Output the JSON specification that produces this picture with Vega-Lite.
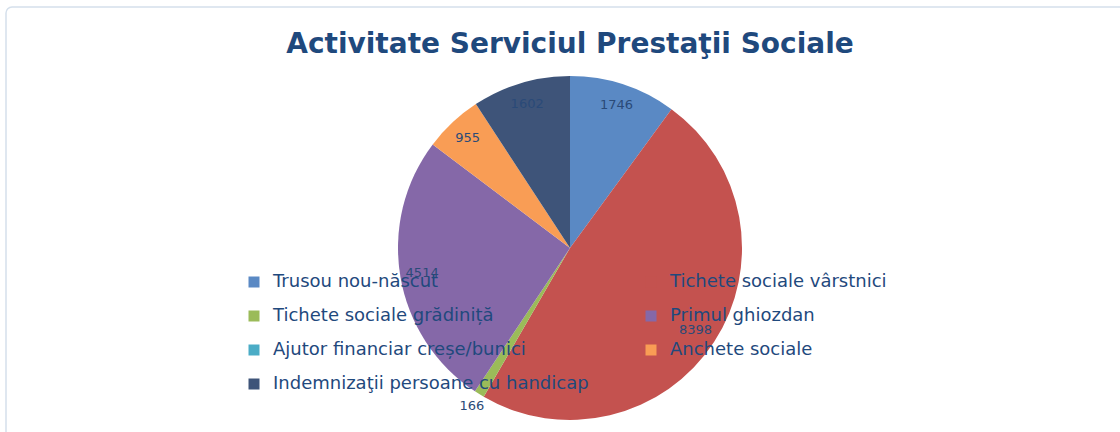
{
  "$schema": "https://vega.github.io/schema/vega-lite/v6.json",
  "autosize": "none",
  "width": 1128,
  "height": 482,
  "padding": {"left": 6, "top": 7, "right": 0, "bottom": 0},
  "background": "white",
  "view": {"stroke": "#D5E0EC", "strokeWidth": 1.5, "cornerRadius": 6},
  "config": {
    "font": "DejaVu Sans"
  },
  "title": {
    "text": "Activitate Serviciul Prestaţii Sociale",
    "font": "DejaVu Sans",
    "fontSize": 28,
    "fontWeight": "bold",
    "color": "#1F497D",
    "anchor": "middle",
    "orient": "top",
    "baseline": "alphabetic",
    "offset": -46,
    "dy": 28
  },
  "data": {
    "values": [
      {"cat": "Trusou nou-născut", "val": 1746, "ord": 1},
      {"cat": "Tichete sociale vârstnici", "val": 8398, "ord": 2},
      {"cat": "Tichete sociale grădiniță", "val": 166, "ord": 3},
      {"cat": "Primul ghiozdan", "val": 4514, "ord": 4},
      {"cat": "Ajutor financiar creșe/bunici", "val": 0, "ord": 5},
      {"cat": "Anchete sociale", "val": 955, "ord": 6},
      {"cat": "Indemnizaţii persoane cu handicap", "val": 1602, "ord": 7}
    ]
  },
  "encoding": {
    "theta": {"field": "val", "type": "quantitative", "stack": true},
    "order": {"field": "ord", "type": "quantitative"}
  },
  "layer": [
    {
      "mark": {"type": "arc", "outerRadius": 172, "stroke": null},
      "encoding": {
        "color": {
          "field": "cat",
          "type": "nominal",
          "scale": {
            "domain": ["Trusou nou-născut", "Tichete sociale vârstnici", "Tichete sociale grădiniță", "Primul ghiozdan", "Ajutor financiar creșe/bunici", "Anchete sociale", "Indemnizaţii persoane cu handicap"],
            "range": ["#5A89C4", "#C4524F", "#9BBB59", "#8568A8", "#4BACC6", "#F99D55", "#3E5479"]
          },
          "legend": {
            "title": null,
            "orient": "none",
            "direction": "horizontal",
            "legendX": 239,
            "legendY": 266,
            "columns": 2,
            "columnPadding": 53,
            "rowPadding": 16,
            "padding": 0,
            "symbolType": "square",
            "symbolSize": 121,
            "symbolStrokeWidth": 0,
            "symbolOffset": 0,
            "labelOffset": 10,
            "labelFont": "DejaVu Sans",
            "labelFontSize": 18,
            "labelColor": "#1F497D",
            "labelLimit": 0
          }
        }
      }
    },
    {
      "mark": {"type": "text", "radius": 150, "font": "DejaVu Sans", "fontSize": 13, "color": "#2A4A78"},
      "encoding": {
        "text": {"condition": {"test": "datum.val <= 500", "value": ""}, "field": "val", "type": "quantitative"}
      }
    },
    {
      "mark": {"type": "text", "radius": 186, "font": "DejaVu Sans", "fontSize": 13, "color": "#2A4A78"},
      "encoding": {
        "text": {"condition": {"test": "datum.val > 500 || datum.val == 0", "value": ""}, "field": "val", "type": "quantitative"}
      }
    }
  ]
}
